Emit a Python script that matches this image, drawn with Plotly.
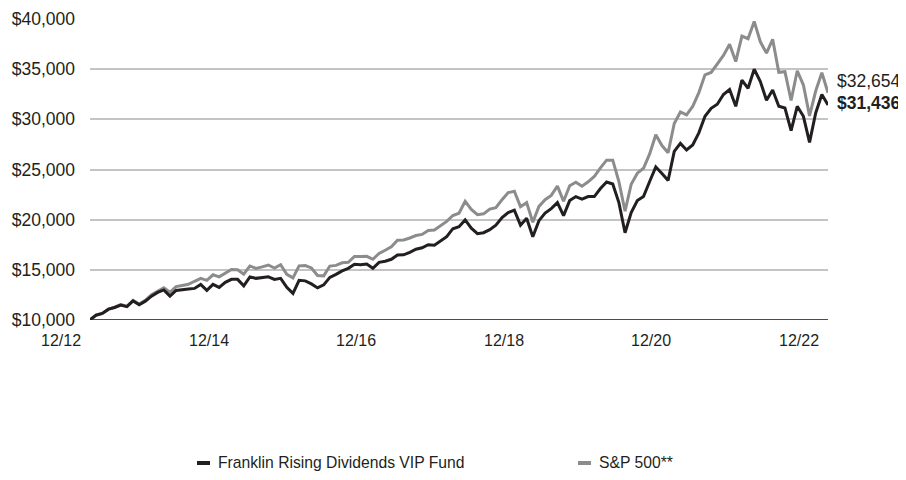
import plotly.graph_objects as go

tick_labels = ["12/12", "12/14", "12/16", "12/18", "12/20", "12/22"]
tick_months = [0, 24, 48, 72, 96, 120]

fund = [10000, 10480, 10650, 11080, 11250, 11480, 11330, 11900, 11520, 11880, 12380, 12750, 13000,
        12380, 12950, 13050, 13100, 13150, 13550, 12950, 13550, 13250, 13750, 14050, 14050,
        13400, 14300, 14150, 14250, 14300, 14050, 14150, 13250, 12650, 13950, 13900, 13600,
        13200, 13500, 14250, 14550, 14900, 15150, 15550, 15500, 15580, 15150, 15750, 15850,
        16050, 16480, 16500, 16750, 17050, 17200, 17500, 17450, 17850, 18300, 19100, 19300,
        19970, 19150, 18600, 18700, 19000, 19450, 20200, 20700, 20950, 19450, 20150, 18300,
        19900, 20650, 21100, 21700, 20400, 21900, 22300, 22050, 22300, 22300, 23100, 23750,
        23550, 21700, 18700, 20700, 21900, 22300, 23800, 25250, 24600, 23900, 26800, 27600,
        26950, 27450, 28650, 30300, 31100, 31500, 32470, 32970, 31300, 33900, 33100, 35000,
        33760, 31900, 32930, 31300, 31130, 28880, 31300, 30300, 27700, 30630, 32470, 31436]

sp500 = [10000, 10521, 10654, 11056, 11273, 11527, 11372, 11953, 11598, 11961, 12516, 12887, 13212,
         12763, 13334, 13447, 13553, 13860, 14147, 13956, 14505, 14303, 14658, 15042, 15002,
         14560, 15385, 15142, 15296, 15481, 15180, 15505, 14558, 14196, 15399, 15432, 15186,
         14438, 14401, 15377, 15443, 15704, 15744, 16332, 16338, 16343, 16051, 16628, 16957,
         17289, 17960, 17983, 18175, 18416, 18533, 18923, 18963, 19360, 19823, 20411, 20645,
         21841, 21025, 20491, 20580, 21059, 21195, 21994, 22696, 22830, 21280, 21695, 19736,
         21323, 21992, 22422, 23343, 21842, 23385, 23729, 23339, 23777, 24302, 25171, 25931,
         25932, 23788, 20845, 23527, 24631, 25125, 26553, 28458, 27386, 26672, 29587, 30735,
         30442, 31287, 32665, 34433, 34678, 35506, 36372, 37486, 35761, 38295, 38036, 39758,
         37728, 36603, 37973, 34688, 34748, 31882, 34842, 33416, 30346, 32821, 34639, 32654]

series_names = ["Franklin Rising Dividends VIP Fund", "S&P 500**"]

months = list(range(len(fund)))

BLACK = "#231f20"
GRAY = "#8c8c8c"
TEXT = "#231f20"
FONT = "Liberation Sans"

# page has an 8px body margin; figure is sized so the plot lands where the reference has it
OFF = 8
W, H = 906 - OFF, 480 - OFF
L, R, T, B = 90 - OFF, 78, 19 - OFF, 160
PW, PH = W - L - R, H - T - B


def px_x(px):
    return (px - OFF - L) / PW


def px_y(py):
    return (H - B - (py - OFF)) / PH


fig = go.Figure()
fig.add_trace(go.Scatter(x=months, y=sp500, mode="lines", line=dict(color=GRAY, width=3),
                         name=series_names[1], showlegend=False, hoverinfo="skip"))
fig.add_trace(go.Scatter(x=months, y=fund, mode="lines", line=dict(color=BLACK, width=3),
                         name=series_names[0], showlegend=False, hoverinfo="skip"))

# end-value labels
fig.add_annotation(x=months[-1], y=sp500[-1], text=f"${sp500[-1]:,}", showarrow=False, xanchor="left",
                   xshift=7, yshift=12, font=dict(family=FONT, size=17.5, color=TEXT))
fig.add_annotation(x=months[-1], y=fund[-1], text=f"<b>${fund[-1]:,}</b>", showarrow=False, xanchor="left",
                   xshift=7, yshift=2, font=dict(family=FONT, size=17.5, color=TEXT))

# x tick labels (right-aligned just left of each tick position)
for m, lab in zip(tick_months, tick_labels):
    fig.add_annotation(x=m, y=px_y(340), xref="x", yref="paper", text=lab, showarrow=False,
                       xanchor="right", yanchor="middle", xshift=-7,
                       font=dict(family=FONT, size=16, color=TEXT))

# legend (symbol + text)
legend_items = [(197, 216, BLACK, series_names[0]), (578, 597, GRAY, series_names[1])]
for sx, tx, col, name in legend_items:
    fig.add_shape(type="line", xref="paper", yref="paper", x0=px_x(sx), x1=px_x(sx + 13),
                  y0=px_y(463), y1=px_y(463), line=dict(color=col, width=4))
    fig.add_annotation(x=px_x(tx), y=px_y(463), xref="paper", yref="paper", text=name,
                       showarrow=False, xanchor="left", yanchor="middle",
                       font=dict(family=FONT, size=15.7, color=TEXT))

fig.update_layout(
    width=W, height=H,
    margin=dict(l=L, r=R, t=T, b=B, autoexpand=False),
    paper_bgcolor="white", plot_bgcolor="white",
    font=dict(family=FONT, size=16, color=TEXT),
    showlegend=False,
    xaxis=dict(range=[0, 120], tickvals=tick_months, showticklabels=False, showgrid=False,
               zeroline=False, showline=False, ticks=""),
    yaxis=dict(range=[10000, 40000], tickvals=[10000, 15000, 20000, 25000, 30000, 35000, 40000],
               tickformat="$,.0f", showgrid=True, gridcolor="#c4c4c4", gridwidth=1.5,
               zeroline=False, showline=False, ticks="", ticklabelstandoff=14,
               tickfont=dict(size=17.5)),
)
fig.add_shape(type="line", xref="paper", yref="y", x0=0, x1=1, y0=10000, y1=10000,
              line=dict(color="#4d4d4d", width=2), layer="below")

fig.write_html("out.html")
